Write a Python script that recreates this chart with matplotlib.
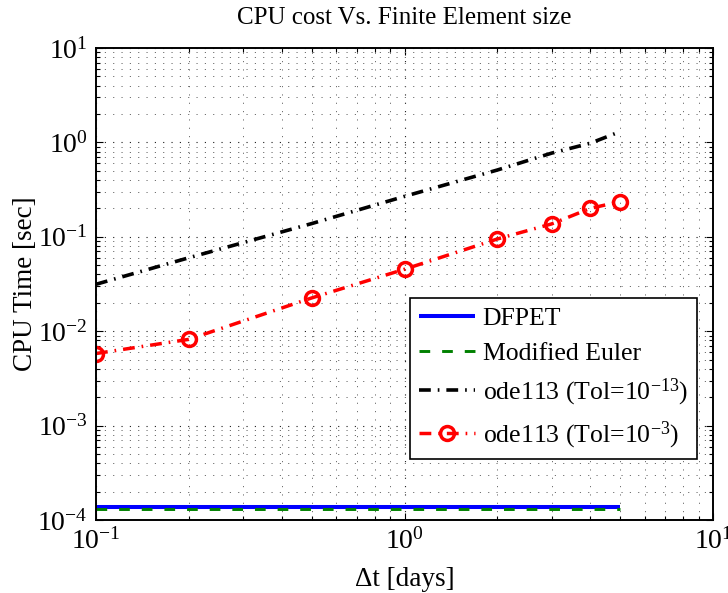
import matplotlib
matplotlib.use("Agg")
import matplotlib.pyplot as plt
from matplotlib.ticker import LogLocator, NullFormatter, LogFormatterMathtext

plt.rcParams["font.family"] = ["Liberation Serif", "DejaVu Serif"]
plt.rcParams["mathtext.fontset"] = "custom"
plt.rcParams["mathtext.rm"] = "Liberation Serif"
plt.rcParams["mathtext.it"] = "Liberation Serif:italic"
plt.rcParams["mathtext.bf"] = "Liberation Serif:bold"
plt.rcParams["lines.scale_dashes"] = False

# time step [days]
dt = [0.1, 0.2, 0.5, 1, 2, 3, 4, 5]

# CPU time [sec]
cpu_dfpet = [1.37e-4] * len(dt)
cpu_euler = [1.30e-4] * len(dt)
cpu_ode113_tight = [0.0314, 0.060, 0.138, 0.268, 0.51, 0.77, 0.98, 1.30]
cpu_ode113_loose = [0.0058, 0.0082, 0.0225, 0.0453, 0.0948, 0.137, 0.200, 0.236]

labels = ["DFPET", "Modified Euler",
          "ode113 (Tol=$10^{-13}$)", "ode113 (Tol=$10^{-3}$)"]

fig = plt.figure(figsize=(7.28, 5.93), dpi=100)
ax = fig.add_axes([96 / 728, 1 - 520 / 593, 617 / 728, 472 / 593])

dashdot = (0, (8.5, 5, 1.2, 5))
ax.plot(dt, cpu_dfpet, color="blue", lw=2.9, solid_capstyle="butt", label=labels[0])
ax.plot(dt, cpu_euler, color=(0, 0.5, 0), lw=2.1, ls=(0, (7.7, 8.6)),
        dash_capstyle="butt", label=labels[1])
ax.plot(dt, cpu_ode113_tight, color="black", lw=2.6, ls=dashdot, label=labels[2])
ax.plot(dt, cpu_ode113_loose, color="red", lw=2.5, ls=dashdot, marker="o",
        ms=10, mfc="none", mec="red", mew=2.5, label=labels[3])

ax.set_xscale("log")
ax.set_yscale("log")
ax.set_xlim(0.1, 10)
ax.set_ylim(1e-4, 10)

for axis in (ax.xaxis, ax.yaxis):
    axis.set_major_locator(LogLocator(base=10, numticks=20))
    axis.set_minor_locator(LogLocator(base=10, subs=range(2, 10), numticks=20))
    axis.set_major_formatter(LogFormatterMathtext())
    axis.set_minor_formatter(NullFormatter())

ax.grid(True, which="major", color="0.1", ls=(0, (0.8, 5.2)), lw=0.8)
ax.grid(True, which="minor", color="0.4", ls=(0, (0.8, 5.2)), lw=0.7)

ax.tick_params(which="both", direction="in", top=True, right=True,
               labelsize=20, width=0.8, colors="black")
ax.tick_params(which="major", length=5, pad=6)
ax.tick_params(which="minor", length=3)
for sp in ax.spines.values():
    sp.set_linewidth(1.4)

ax.set_xlabel("Δt [days]", fontsize=19.5)
ax.set_ylabel("CPU Time [sec]", fontsize=19.5)
ax.xaxis.set_label_coords(0.5, -0.1)
ax.yaxis.set_label_coords(-0.094, 0.5)
ax.set_title("CPU cost Vs. Finite Element size", fontsize=18, pad=17)

leg = ax.legend(loc="upper right", bbox_to_anchor=(0.974, 0.47), fontsize=18.5,
                frameon=True, fancybox=False, framealpha=1, edgecolor="black",
                handlelength=2.2, borderpad=0.35, labelspacing=0.45,
                handletextpad=0.3, borderaxespad=0)
leg.get_frame().set_linewidth(1.2)

fig.savefig("out.png", dpi=100)
